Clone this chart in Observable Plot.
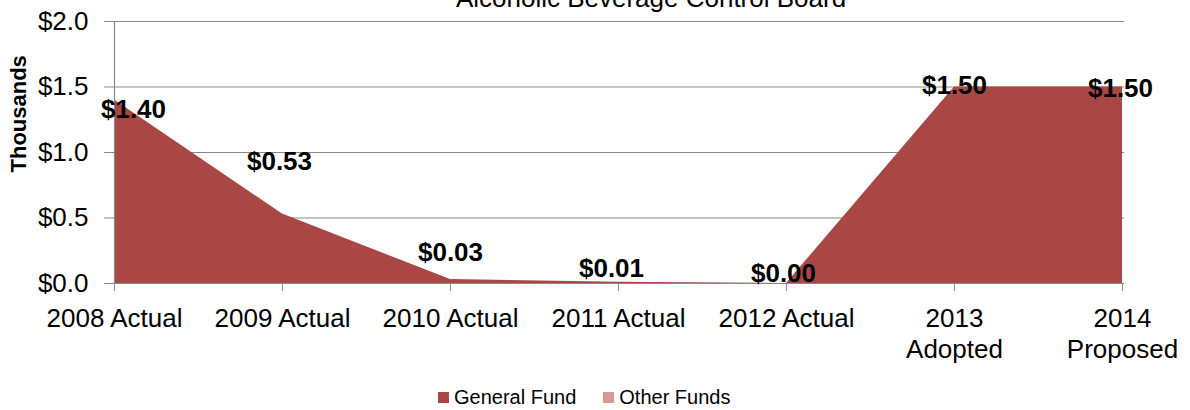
<!DOCTYPE html>
<html>
<head>
<meta charset="utf-8">
<script src="https://cdn.jsdelivr.net/npm/d3@7"></script>
<script src="https://cdn.jsdelivr.net/npm/@observablehq/plot@0.6"></script>
<style>
  html, body { margin: 0; padding: 0; background: #fff; overflow: hidden; }
  #wrap { position: relative; width: 1190px; height: 410px; overflow: hidden; font-family: "Liberation Sans", Arial, sans-serif; }
  #title { position: absolute; top: -15px; left: 0; width: 1302px; text-align: center; font-size: 26px; line-height: 26px; color: #000; white-space: nowrap; }
  #chart { position: absolute; top: 0; left: 0; }
  #legend { position: absolute; top: 387px; left: 438px; display: flex; align-items: center; font-size: 20px; line-height: 20px; color: #000; white-space: nowrap; }
  .sw { width: 11px; height: 11px; display: inline-block; margin-right: 5px; }
  .item { display: flex; align-items: center; margin-right: 27px; }
</style>
</head>
<body>
<div id="wrap">
  <div id="title">Alcoholic Beverage Control Board</div>
  <div id="chart"></div>
  <div id="legend"></div>
</div>
<script>
// ---- data ----
const categories = ["2008 Actual", "2009 Actual", "2010 Actual", "2011 Actual", "2012 Actual", "2013\nAdopted", "2014\nProposed"];
const generalFund = [1.40, 0.53, 0.03, 0.01, 0.00, 1.50, 1.50];
const otherFunds = [0, 0, 0, 0, 0, 0, 0];
const seriesNames = ["General Fund", "Other Funds"];
const yTicks = [0, 0.5, 1.0, 1.5, 2.0];
const yLabel = "Thousands";

// ---- styling (label nudges, colors) ----
const seriesColors = ["#A94745", "#D99795"];
const labelDx = [19, -3, 0, -7, -3, 0, -2];
const labelDy = [10, -52, -27, -14, -10, -1.5, 1.5];

const rows = [];
categories.forEach((c, i) => {
  rows.push({category: c, series: seriesNames[0], value: generalFund[i]});
  rows.push({category: c, series: seriesNames[1], value: otherFunds[i]});
});
const labelRows = categories.map((c, i) => ({category: c, value: generalFund[i] + otherFunds[i], i}));

const gridColor = "#898989";
const font = "'Liberation Sans', Arial, sans-serif";

const chart = Plot.plot({
  width: 1190,
  height: 380,
  marginLeft: 112,
  marginRight: 66,
  marginTop: 21,
  marginBottom: 97,
  style: {fontFamily: font, background: "transparent", color: "#000", overflow: "visible"},
  x: {type: "point", domain: categories, padding: 0},
  y: {domain: [0, 2]},
  color: {domain: seriesNames, range: seriesColors},
  marks: [
    Plot.gridY(yTicks, {stroke: gridColor, strokeOpacity: 1, strokeWidth: 1.2}),
    Plot.areaY(rows, Plot.stackY({x: "category", y: "value", fill: "series", curve: "linear", order: seriesNames})),
    Plot.ruleX([categories[0]], {stroke: gridColor, strokeWidth: 1.2}),
    Plot.ruleY([0], {stroke: gridColor, strokeWidth: 1.2}),
    Plot.axisY({ticks: yTicks, tickFormat: d => "$" + d.toFixed(1), tickSize: 8, tickPadding: 16, fontSize: 26, stroke: gridColor, fill: "#000", label: null}),
    Plot.axisX({tickSize: 8, tickPadding: 14, fontSize: 26, lineHeight: 1.17, stroke: gridColor, fill: "#000", label: null}),
    ...labelRows.map((d, k) => Plot.text([d], {
      x: "category", y: "value",
      text: r => "$" + r.value.toFixed(2),
      dx: labelDx[k], dy: labelDy[k],
      fontSize: 26, fontWeight: "bold", fill: "#000"
    })),
    Plot.text([yLabel], {frameAnchor: "left", dx: -94, dy: 20, rotate: -90, fontSize: 22, fontWeight: "bold", fill: "#000"})
  ]
});
document.getElementById("chart").appendChild(chart);

const legend = document.getElementById("legend");
seriesNames.forEach((n, i) => {
  const item = document.createElement("div");
  item.className = "item";
  const sw = document.createElement("span");
  sw.className = "sw";
  sw.style.background = seriesColors[i];
  const t = document.createElement("span");
  t.textContent = n;
  item.appendChild(sw);
  item.appendChild(t);
  legend.appendChild(item);
});
</script>
</body>
</html>
